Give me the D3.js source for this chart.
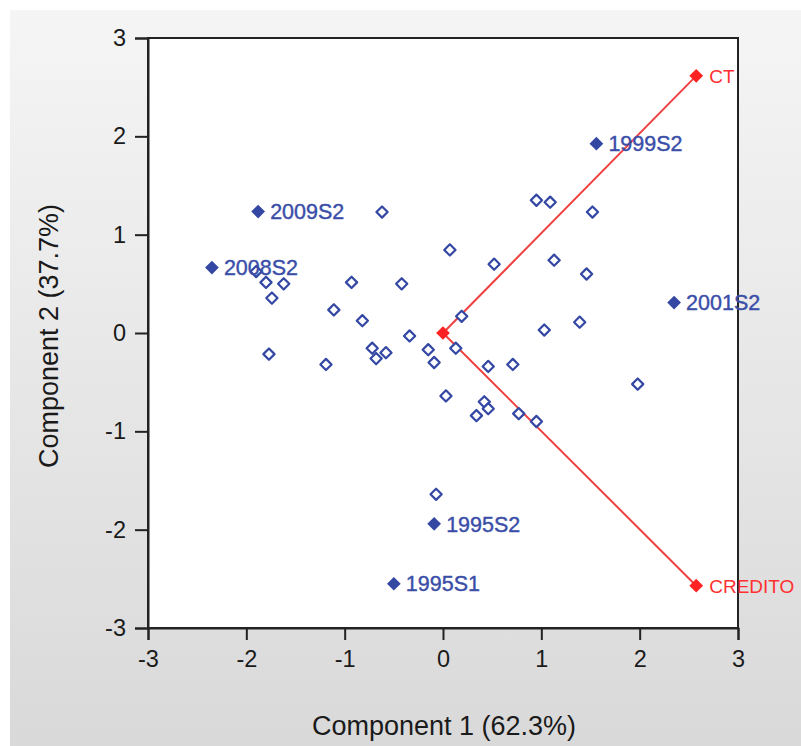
<!DOCTYPE html>
<html>
<head>
<meta charset="utf-8">
<script src="https://cdn.jsdelivr.net/npm/d3@7"></script>
<style>
  body { margin: 0; background: #ffffff; }
  svg { display: block; font-family: "Liberation Sans", Arial, sans-serif; }
</style>
</head>
<body>
<script>
// unlabelled observations (component 1, component 2)
var obsX = [-0.62, 0.07, 0.52, 0.95, 1.09, 1.52, 1.13, 1.46, 1.03, 1.39, 1.98,
            0.19, 0.13, 0.46, 0.71, 0.03, 0.42, 0.46, 0.34, 0.77, 0.95,
            -0.07, -0.15, -0.09, -0.34, -0.42, -0.58, -0.72, -0.68, -0.82,
            -0.93, -1.11, -1.19, -1.62, -1.80, -1.90, -1.74, -1.77];
var obsY = [1.23, 0.845, 0.70, 1.35, 1.33, 1.23, 0.74, 0.60, 0.03, 0.11, -0.52,
            0.17, -0.155, -0.34, -0.32, -0.64, -0.70, -0.77, -0.84, -0.82, -0.90,
            -1.64, -0.17, -0.30, -0.03, 0.50, -0.20, -0.155, -0.26, 0.125,
            0.515, 0.235, -0.32, 0.50, 0.515, 0.625, 0.355, -0.215];

// labelled observations
var labNames = ["2009S2", "2008S2", "1999S2", "2001S2", "1995S2", "1995S1"];
var labX = [-1.88, -2.35, 1.56, 2.35, -0.09, -0.50];
var labY = [1.235, 0.665, 1.925, 0.31, -1.94, -2.55];

// variable loadings
var varNames = ["CT", "CREDITO"];
var varX = [2.575, 2.575];
var varY = [2.615, -2.57];

var xTicks = [-3, -2, -1, 0, 1, 2, 3];
var yTicks = [-3, -2, -1, 0, 1, 2, 3];

var w = 801, h = 746;
var blue = "#3347a3";
var red = "#ff2222";

var svg = d3.select("body").append("svg")
  .attr("width", w)
  .attr("height", h);

// grey panel background
var grad = svg.append("defs").append("linearGradient")
  .attr("id", "bg")
  .attr("x1", 0).attr("y1", 0).attr("x2", 0).attr("y2", 1);
grad.append("stop").attr("offset", "0%").attr("stop-color", "#f5f5f5");
grad.append("stop").attr("offset", "100%").attr("stop-color", "#d9d9d9");

svg.append("rect")
  .attr("x", 10).attr("y", 10)
  .attr("width", w - 10).attr("height", h - 10)
  .attr("fill", "url(#bg)");

var xScale = d3.scaleLinear().domain([-3, 3]).range([148, 738]);
var yScale = d3.scaleLinear().domain([-3, 3]).range([628, 38]);

// plot area
svg.append("rect")
  .attr("x", xScale(-3)).attr("y", yScale(3))
  .attr("width", xScale(3) - xScale(-3))
  .attr("height", yScale(-3) - yScale(3))
  .attr("fill", "#ffffff")
  .attr("stroke", "#222")
  .attr("stroke-width", 2);

// axes
var xAxis = svg.append("g")
  .attr("transform", `translate(0, ${yScale(-3)})`)
  .call(d3.axisBottom(xScale).tickValues(xTicks).tickSize(12).tickPadding(10)
    .tickFormat(d => String(d)));

var yAxis = svg.append("g")
  .attr("transform", `translate(${xScale(-3)}, 0)`)
  .call(d3.axisLeft(yScale).tickValues(yTicks).tickSize(13).tickPadding(9)
    .tickFormat(d => String(d)));

[xAxis, yAxis].forEach(function(a) {
  a.select(".domain").attr("stroke", "#222").attr("stroke-width", 2);
  a.selectAll(".tick line").attr("stroke", "#222").attr("stroke-width", 2);
  a.selectAll(".tick text")
    .attr("fill", "#1a1a1a")
    .style("font-size", "23.5px")
    .style("font-family", "'Liberation Sans', Arial, sans-serif");
});

// axis titles
svg.append("text")
  .attr("x", 444).attr("y", 735)
  .attr("text-anchor", "middle")
  .attr("fill", "#1a1a1a")
  .style("font-size", "27px")
  .text("Component 1 (62.3%)");

svg.append("text")
  .attr("transform", "translate(58, 336) rotate(-90)")
  .attr("text-anchor", "middle")
  .attr("fill", "#1a1a1a")
  .style("font-size", "27px")
  .text("Component 2 (37.7%)");

var diamond = d3.symbol().type(d3.symbolDiamond2);

// loading vectors
var loadings = varNames.map((n, i) => ({name: n, x: varX[i], y: varY[i]}));

svg.selectAll("line.vec")
  .data(loadings)
  .enter().append("line")
  .attr("class", "vec")
  .attr("x1", xScale(0)).attr("y1", yScale(0))
  .attr("x2", d => xScale(d.x)).attr("y2", d => yScale(d.y))
  .attr("stroke", "#f04040")
  .attr("stroke-width", 2);

// hollow observations
var obs = obsX.map((v, i) => ({x: v, y: obsY[i]}));

svg.selectAll("path.obs")
  .data(obs)
  .enter().append("path")
  .attr("class", "obs")
  .attr("d", diamond.size(80))
  .attr("transform", d => `translate(${xScale(d.x)}, ${yScale(d.y)})`)
  .attr("fill", "#ffffff")
  .attr("stroke", blue)
  .attr("stroke-width", 2.2)
  .attr("stroke-linejoin", "round");

// labelled observations
var labs = labNames.map((n, i) => ({name: n, x: labX[i], y: labY[i]}));

svg.selectAll("path.lab")
  .data(labs)
  .enter().append("path")
  .attr("class", "lab")
  .attr("d", diamond.size(120))
  .attr("transform", d => `translate(${xScale(d.x)}, ${yScale(d.y)})`)
  .attr("fill", blue);

svg.selectAll("text.lab")
  .data(labs)
  .enter().append("text")
  .attr("class", "lab")
  .attr("x", d => xScale(d.x) + 12)
  .attr("y", d => yScale(d.y))
  .attr("dy", "0.36em")
  .attr("fill", "#3a4ea8")
  .attr("stroke", "#3a4ea8")
  .attr("stroke-width", 0.4)
  .style("font-size", "21.5px")
  .text(d => d.name);

// origin and loading markers
svg.append("path")
  .attr("d", diamond.size(120))
  .attr("transform", `translate(${xScale(0)}, ${yScale(0)})`)
  .attr("fill", red);

svg.selectAll("path.var")
  .data(loadings)
  .enter().append("path")
  .attr("class", "var")
  .attr("d", diamond.size(120))
  .attr("transform", d => `translate(${xScale(d.x)}, ${yScale(d.y)})`)
  .attr("fill", red);

svg.selectAll("text.var")
  .data(loadings)
  .enter().append("text")
  .attr("class", "var")
  .attr("x", d => xScale(d.x) + 13)
  .attr("y", d => yScale(d.y))
  .attr("dy", "0.36em")
  .attr("fill", "#ff3030")
  .style("font-size", "19px")
  .text(d => d.name);
</script>
</body>
</html>
